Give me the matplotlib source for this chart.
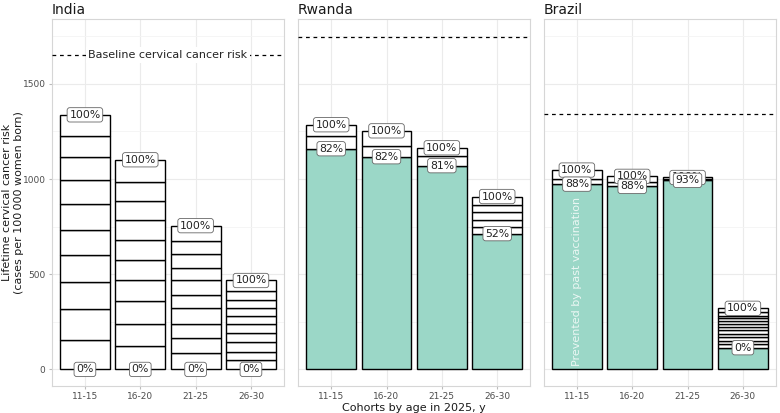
import numpy as np
import matplotlib.pyplot as plt

plt.rcParams['font.family'] = ['DejaVu Sans']

# data
cohorts = ['11-15', '16-20', '21-25', '26-30']
countries = ['India', 'Rwanda', 'Brazil']
baseline = {'India': 1652, 'Rwanda': 1745, 'Brazil': 1341}

# risk prevented by past vaccination (teal part)
prevented = {
    'India': [0, 0, 0, 0],
    'Rwanda': [1159, 1117, 1070, 713],
    'Brazil': [973, 961, 993, 114],
}

# upper edges of the stacked white segments above the teal part
seg_tops = {
    'India': [
        [157, 315, 461, 603, 734, 870, 996, 1117, 1227, 1337],
        [121, 241, 357, 467, 577, 682, 787, 886, 986, 1101],
        [84, 163, 241, 320, 393, 467, 535, 608, 676, 755],
        [47, 94, 142, 189, 236, 278, 325, 367, 414, 467],
    ],
    'Rwanda': [
        [1227, 1285],
        [1175, 1253],
        [1122, 1164],
        [750, 786, 825, 866, 908],
    ],
    'Brazil': [
        [1000, 1047],
        [982, 1014],
        [1000, 1008],
        [131, 148, 168, 185, 206, 222, 240, 255, 269, 283, 300, 321],
    ],
}

low_labels = {
    'India': ['0%', '0%', '0%', '0%'],
    'Rwanda': ['82%', '82%', '81%', '52%'],
    'Brazil': ['88%', '88%', '93%', '0%'],
}

teal = '#9bd7c7'
fig = plt.figure(figsize=(7.8, 4.13), dpi=100)
lefts = [0.0663, 0.382, 0.697]
w, b, h = 0.298, 0.0654, 0.888

x = np.arange(1, len(cohorts) + 1)
box = dict(boxstyle='round,pad=0.2,rounding_size=0.25', fc='white', ec='#666666', lw=0.6)

for i, c in enumerate(countries):
    ax = fig.add_axes([lefts[i], b, w, h])
    ax.set_xlim(0.4, 4.6)
    ax.set_ylim(-87, 1839)
    ax.set_yticks([0, 500, 1000, 1500])
    ax.set_yticks([250, 750, 1250, 1750], minor=True)
    ax.set_xticks(x)
    ax.set_xticklabels(cohorts)
    ax.grid(True, which='major', color='#ebebeb', lw=0.8)
    ax.grid(True, which='minor', color='#f4f4f4', lw=0.6)
    ax.set_axisbelow(True)
    for s in ax.spines.values():
        s.set_color('#d6d6d6')
        s.set_linewidth(0.8)
    ax.tick_params(axis='both', which='major', length=2.5, color='#bbbbbb',
                   labelsize=6.5, labelcolor='#4d4d4d', pad=2)
    ax.tick_params(axis='y', which='minor', length=0)
    if i > 0:
        ax.set_yticklabels([])
        ax.tick_params(axis='y', which='major', length=0)

    # bars
    for j in range(len(cohorts)):
        p = prevented[c][j]
        if p > 0:
            ax.bar(x[j], p, width=0.9, color=teal, edgecolor='black', lw=1.0, zorder=2)
        prev = p
        for t in seg_tops[c][j]:
            ax.bar(x[j], t - prev, bottom=prev, width=0.9, color='white',
                   edgecolor='black', lw=1.0, zorder=2)
            prev = t
    # labels
    for j in range(len(cohorts)):
        top = seg_tops[c][j][-1]
        ax.text(x[j], top, '100%', ha='center', va='center', fontsize=7.8,
                color='#222222', bbox=box, zorder=5)
    for j in range(len(cohorts)):
        ax.text(x[j], prevented[c][j], low_labels[c][j], ha='center', va='center',
                fontsize=7.8, color='#222222', bbox=box, zorder=6)

    # baseline risk
    ax.axhline(baseline[c], color='black', lw=0.9, ls=(0, (3, 3)), zorder=3)
    if c == 'India':
        ax.text(2.5, baseline[c], 'Baseline cervical cancer risk', ha='center', va='center',
                fontsize=8, color='#222222', zorder=4,
                bbox=dict(boxstyle='square,pad=0.25', fc='white', ec='none'))
    if c == 'Brazil':
        ax.text(1, 461, 'Prevented by past vaccination', rotation=90, ha='center',
                va='center', fontsize=8, color='white', alpha=0.8, zorder=4)

    ax.set_title(c, loc='left', fontsize=10, color='#1a1a1a', pad=4)
    if i == 0:
        ax.set_ylabel('Lifetime cervical cancer risk\n(cases per 100\u202f000 women born)',
                      fontsize=8, color='#1a1a1a')
        ax.yaxis.set_label_coords(-0.12, 0.5)
    if i == 1:
        ax.set_xlabel('Cohorts by age in 2025, y', fontsize=8, color='#1a1a1a', labelpad=1)

plt.savefig('out.png', dpi=100)
